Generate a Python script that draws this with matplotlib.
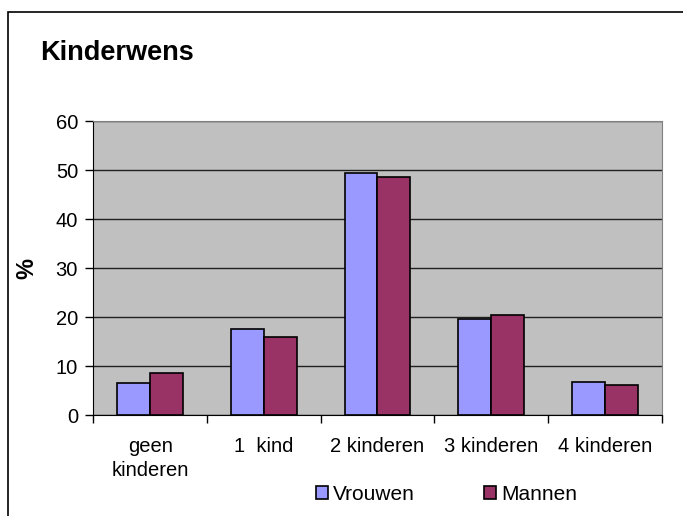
import matplotlib as mpl
mpl.use('Agg')
import numpy as np
import matplotlib.pyplot as plt
from matplotlib.patches import Rectangle, Patch

mpl.rcParams['font.family'] = ['Liberation Sans', 'DejaVu Sans']

categories = ['geen\nkinderen', '1  kind', '2 kinderen', '3 kinderen', '4 kinderen']
vrouwen = [6.5, 17.5, 49.4, 19.5, 6.8]
mannen = [8.5, 16.0, 48.6, 20.5, 6.1]
yticks = [0, 10, 20, 30, 40, 50, 60]

c_v = '#9999FF'
c_m = '#993366'

fig = plt.figure(figsize=(6.83, 5.16), dpi=100)
ax = fig.add_axes([0.1366, 0.1957, 0.8322, 0.5698])
ax.set_facecolor('#C0C0C0')

x = np.arange(len(categories))
w = 0.29
ax.bar(x - w/2, vrouwen, w, color=c_v, edgecolor='black', lw=1.2, zorder=3, label='Vrouwen')
ax.bar(x + w/2, mannen, w, color=c_m, edgecolor='black', lw=1.2, zorder=3, label='Mannen')

ax.set_xlim(-0.5, len(categories) - 0.5)
ax.set_ylim(0, 60)
ax.set_yticks(yticks)
ax.yaxis.grid(True, color='#202020', lw=1, zorder=1)
ax.set_axisbelow(True)

ax.set_xticks(x)
ax.set_xticklabels(categories, fontsize=14.5, linespacing=1.35)
ax.set_xticks(np.arange(len(categories) + 1) - 0.5, minor=True)
ax.tick_params(axis='x', which='major', length=0, pad=16)
ax.tick_params(axis='x', which='minor', length=6, width=1, direction='out')
ax.tick_params(axis='y', labelsize=14.5, length=6, width=1, direction='out', pad=5)

for s in ['top', 'right']:
    ax.spines[s].set_color('#808080')
ax.spines['left'].set_color('black')
ax.spines['bottom'].set_color('black')

ax.set_ylabel('%', fontsize=17, fontweight='bold')
ax.get_yaxis().set_label_coords(-0.097, 0.5)

fig.text(40/683, 1 - 60/516, 'Kinderwens', fontsize=19.5, fontweight='bold', va='baseline', ha='left')

handles = [Patch(facecolor=c_v, edgecolor='black', lw=1.2), Patch(facecolor=c_m, edgecolor='black', lw=1.2)]
fig.legend(handles, ['Vrouwen', 'Mannen'], loc='center', bbox_to_anchor=(0.654, 1 - 494/516),
           ncol=2, frameon=False, fontsize=15, handlelength=0.6, handleheight=0.6,
           handletextpad=0.25, columnspacing=3.3, borderpad=0)

fig.patches.append(Rectangle((8/683, -0.1), 1.0, (516 - 12)/516 + 0.1, transform=fig.transFigure,
                             fill=False, edgecolor='black', lw=1.2))

plt.savefig('out.png', dpi=100)
plt.close()
